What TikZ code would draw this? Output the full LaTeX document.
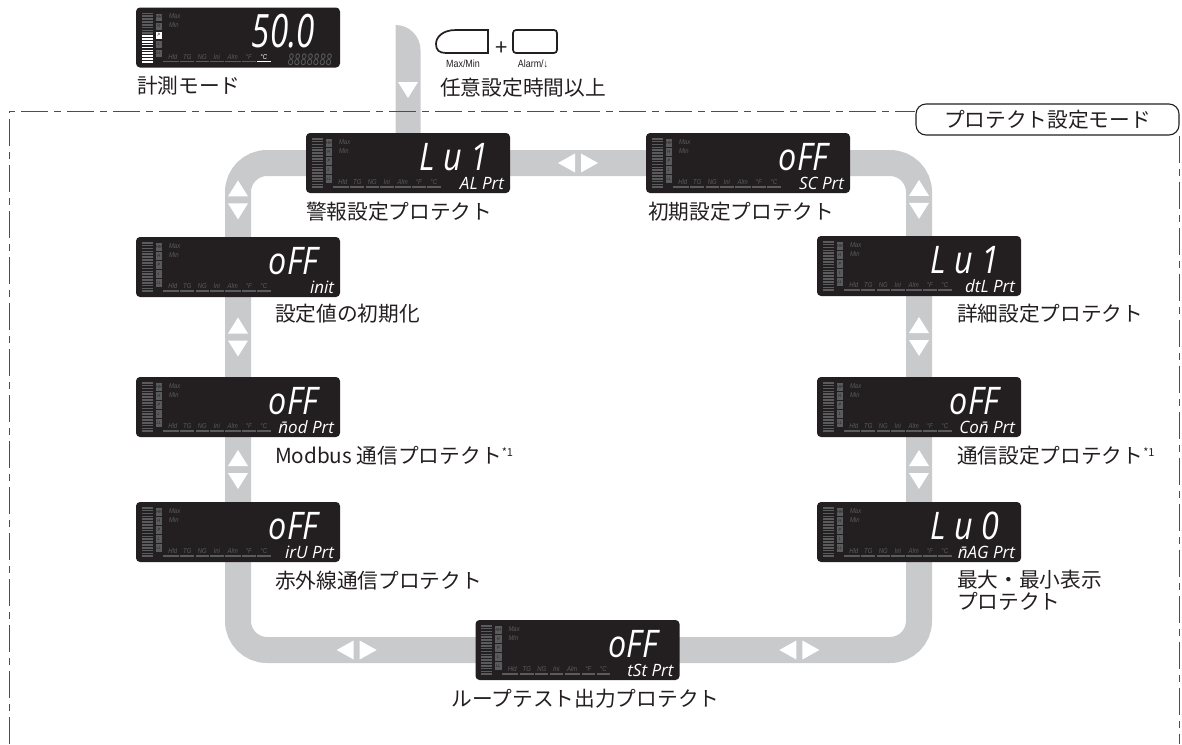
\documentclass[tikz,border=0pt]{standalone}
\usepackage{fontspec}
\setmainfont{Noto Sans CJK JP}
\newfontfamily\segfont{Open Sans}[FakeStretch=0.85]
\newfontfamily\segnarrow{Open Sans}[FakeStretch=0.72]
\newfontfamily\segsubfont{Open Sans}
\newfontfamily\lcdfont{Liberation Sans}[FakeStretch=0.85]
\usetikzlibrary{positioning,calc,backgrounds}

\definecolor{lcdblack}{HTML}{231F20}
\definecolor{lcdgray}{HTML}{5A5B5D}
\definecolor{bandgray}{HTML}{C9CACC}
\definecolor{ink}{HTML}{231F20}
\definecolor{framegray}{HTML}{4D4D4F}

% face of one LCD panel: [lit colour] node name, main reading, sub reading
\newcommand{\lcdface}[4][lcdgray]{%
  \foreach \k in {0,...,7}
    \draw[lcdgray, line width=1.6pt] ([shift={(6,6+\k*2.85)}]#2.north west) -- ++(11,0);
  \foreach \k in {8,...,17}
    \draw[#1, line width=1.6pt] ([shift={(6,6+\k*2.85)}]#2.north west) -- ++(11,0);
  \node[lamp] at ([shift={(23,10)}]#2.north west) {HH};
  \node[lamp] at ([shift={(23,19)}]#2.north west) {H};
  \node[lamp, fill=#1] at ([shift={(23,28)}]#2.north west) {P};
  \node[lamp] at ([shift={(23,37)}]#2.north west) {L};
  \node[lamp] at ([shift={(23,46)}]#2.north west) {LL};
  \node[tag, anchor=west] at ([shift={(33,9)}]#2.north west) {Max};
  \node[tag, anchor=west] at ([shift={(33,18)}]#2.north west) {Min};
  \foreach \tg/\x in {Hld/37,TG/51.5,NG/66.5,Ini/81,Alm/97,°F/113}
    \node[tag] at ([shift={(\x,49.5)}]#2.north west) {\tg};
  \node[tag, text=#1] at ([shift={(128,49.5)}]#2.north west) {°C};
  \foreach \a/\b in {27/43,44.5/58.5,60/73,74.5/88,89.5/105,106.5/120}
    \draw[lcdgray, line width=1.6pt] ([shift={(\a,54)}]#2.north west) -- ([shift={(\b,54)}]#2.north west);
  \draw[#1, line width=1.6pt] ([shift={(121.5,54)}]#2.north west) -- ([shift={(135,54)}]#2.north west);
  \node[seg, anchor=base east] at ([shift={(-22,38)}]#2.north east) {#3};
  \node[segsub, anchor=base east] at ([shift={(-6,57)}]#2.north east) {#4};
}
% up/down and left/right marks on the band
\newcommand{\vmark}[1]{%
  \fill[white] ($(#1)+(-10,-3.5)$) -- ++(20,0) -- ++(-10,-16) -- cycle;
  \fill[white] ($(#1)+(-10,3.5)$) -- ++(20,0) -- ++(-10,16) -- cycle;}
\newcommand{\hmark}[1]{%
  \fill[white] ($(#1)+(-3,-9.5)$) -- ++(0,19) -- ++(-17,-9.5) -- cycle;
  \fill[white] ($(#1)+(3,-9.5)$) -- ++(0,19) -- ++(17,-9.5) -- cycle;}
\newcommand{\noteone}{\raisebox{7pt}{\fontsize{11}{11}\selectfont *1}}

\begin{document}
\begin{tikzpicture}[x=1pt, y=-1pt,
    lcd/.style={rectangle, rounded corners=4pt, fill=lcdblack, minimum width=204pt, minimum height=60pt, inner sep=0pt},
    lamp/.style={rectangle, fill=lcdgray, minimum width=6.5pt, minimum height=7.5pt, inner sep=0pt, text=lcdblack, font=\lcdfont\itshape\fontsize{4.5}{4.5}\selectfont},
    tag/.style={inner sep=0pt, text=lcdgray, text depth=0pt, font=\lcdfont\itshape\fontsize{7}{7}\selectfont},
    seg/.style={inner sep=0pt, text=white, text depth=0pt, font=\segfont\itshape\fontsize{38}{38}\selectfont},
    segsub/.style={inner sep=0pt, text=white, text height=12pt, text depth=0pt, font=\segsubfont\itshape\fontsize{17}{17}\selectfont},
    lbl/.style={inner sep=0pt, text=ink, align=left, font=\fontsize{20.7}{21.5}\selectfont},
    keytxt/.style={inner sep=0pt, text=ink, font=\lcdfont\fontsize{10.5}{10.5}\selectfont},
    keycap/.style={draw=ink, line width=1.7pt, rounded corners=3pt, minimum width=44pt, minimum height=23pt, inner sep=0pt},
    band/.style={draw=bandgray, line width=26pt, rounded corners=29pt},
    frame/.style={draw=framegray, line width=1pt, dash pattern=on 27pt off 6pt on 7pt off 6pt},
    modebox/.style={draw=ink, line width=1.1pt, rounded corners=10pt, minimum width=263pt, minimum height=31pt, inner sep=0pt, text=ink, font=\fontsize{20.7}{21.5}\selectfont}
]
\useasboundingbox (0,0) rectangle (1182,744);

% measuring mode
\node[lcd] (meas) at (238,37.5) {};
\node[lbl, anchor=west] (measT) at ([shift={(1,18)}]meas.south west) {計測モード};

% key combination
\coordinate (btnmm) at (462,41.5);
\begin{scope}[shift={(btnmm)}]
\draw[ink, line width=1.7pt] (26,-11.5) -- (-6,-11.5) .. controls (-20,-11.5) and (-26,-4) .. (-26,2.5) .. controls (-26,8.5) and (-23,11.5) .. (-16,11.5) -- (26,11.5) -- cycle;
\end{scope}
\node[keycap] (btnal) at (535,41.5) {};
\node[inner sep=0pt, text=ink, font=\fontsize{22}{22}\selectfont] (plus) at (501.5,49) {+};
\node[keytxt] (mmT) at ([shift={(1,22)}]btnmm) {Max/Min};
\node[keytxt] (alT) at ([shift={(-2,22)}]btnal.center) {Alarm/↓};
\node[lbl, anchor=west] (holdT) at (440,88) {任意設定時間以上};

% protect setting mode
\node[modebox] (mode) at (1047.5,119.5) {プロテクト設定モード};

\node[lcd] (alprt) at (408,163) {};
\node[lcd] (scprt) at (748,163) {};
\node[lcd] (init) at (238,267) {};
\node[lcd] (nod) at (238,407) {};
\node[lcd] (irru) at (238,532) {};
\node[lcd] (dtl) at (919,266) {};
\node[lcd] (con) at (919,407) {};
\node[lcd] (nag) at (919,532) {};
\node[lcd] (tst) at (577.5,650) {};

\node[lbl, anchor=west] (alprtT) at ([shift={(0,18)}]alprt.south west) {警報設定プロテクト};
\node[lbl, anchor=west] (scprtT) at ([shift={(2,18)}]scprt.south west) {初期設定プロテクト};
\node[lbl, anchor=west] (initT) at ([shift={(139,16)}]init.south west) {設定値の初期化};
\node[lbl, anchor=west] (nodT) at ([shift={(139,18)}]nod.south west) {Modbus 通信プロテクト\noteone};
\node[lbl, anchor=west] (irruT) at ([shift={(139,18)}]irru.south west) {赤外線通信プロテクト};
\node[lbl, anchor=west] (dtlT) at ([shift={(140,17)}]dtl.south west) {詳細設定プロテクト};
\node[lbl, anchor=west] (conT) at ([shift={(140,18)}]con.south west) {通信設定プロテクト\noteone};
\node[lbl, anchor=north west] (nagT) at ([shift={(140,8)}]nag.south west) {最大・最小表示\\プロテクト};
\node[lbl] (tstT) at ([shift={(8,18)}]tst.south) {ループテスト出力プロテクト};

% panel faces
\lcdface[white]{meas}{}{}
\node[seg, anchor=base east, font=\segnarrow\itshape\fontsize{46}{46}\selectfont] at ([shift={(-25,40)}]meas.north east) {50.0};
\node[segsub, anchor=base east, text=lcdgray, font=\segnarrow\itshape\fontsize{16}{16}\selectfont] at ([shift={(-8,58)}]meas.north east) {8888888};

\lcdface{alprt}{L u 1}{AL Prt}
\lcdface{scprt}{oFF}{SC Prt}
\lcdface{init}{oFF}{init}
\lcdface{nod}{oFF}{\=nod Prt}
\lcdface{irru}{oFF}{irU Prt}
\lcdface{dtl}{L u 1}{dtL Prt}
\lcdface{con}{oFF}{Co\=n Prt}
\lcdface{nag}{L u 0}{\=nAG Prt}
\lcdface{tst}{oFF}{tSt Prt}

% mark positions
\coordinate (entrymark) at (408,90);
\coordinate (mkT) at ($(alprt.east)!0.5!(scprt.west)$);
\coordinate (mkL1) at ($(init.north)!0.5!(init.north |- alprt.center)$);
\coordinate (mkL2) at ($(init.south)!0.5!(nod.north)$);
\coordinate (mkL3) at ($(nod.south)!0.5!(irru.north)$);
\coordinate (mkR1) at ($(dtl.north)!0.5!(dtl.north |- scprt.center)$);
\coordinate (mkR2) at ($(dtl.south)!0.5!(con.north)$);
\coordinate (mkR3) at ($(con.south)!0.5!(nag.north)$);
\coordinate (mkB1) at ($(tst.west)!0.5!(tst.west -| irru.center)$);
\coordinate (mkB2) at ($(tst.east)!0.5!(tst.east -| nag.center)$);
\coordinate (entry) at (395.5,25);
\coordinate (ftl) at (9.5,111.7);
\coordinate (fbot) at (0,744);

\begin{scope}[on background layer]
% loop band
\draw[band] (tst.center) -| (nag.center) -- (dtl.center) |- (scprt.center) -- (alprt.center) -| (init.center) -- (irru.center) |- (tst.center);
% entry band
\fill[bandgray] (entry |- alprt.center) -- (entry) arc[start angle=-90, end angle=0, radius=25] |- (alprt.center) -- cycle;
\fill[white] ($(entrymark)+(-10,-8)$) -- ++(20,0) -- ++(-10,16) -- cycle;
\vmark{mkL1} \vmark{mkL2} \vmark{mkL3}
\vmark{mkR1} \vmark{mkR2} \vmark{mkR3}
\hmark{mkT} \hmark{mkB1} \hmark{mkB2}
% frame
\draw[frame] (ftl |- fbot) -- (ftl) -- (ftl -| mode.west);
\draw[frame] (mode.south east) -- (mode.south east |- fbot);
\end{scope}

\end{tikzpicture}
\end{document}
